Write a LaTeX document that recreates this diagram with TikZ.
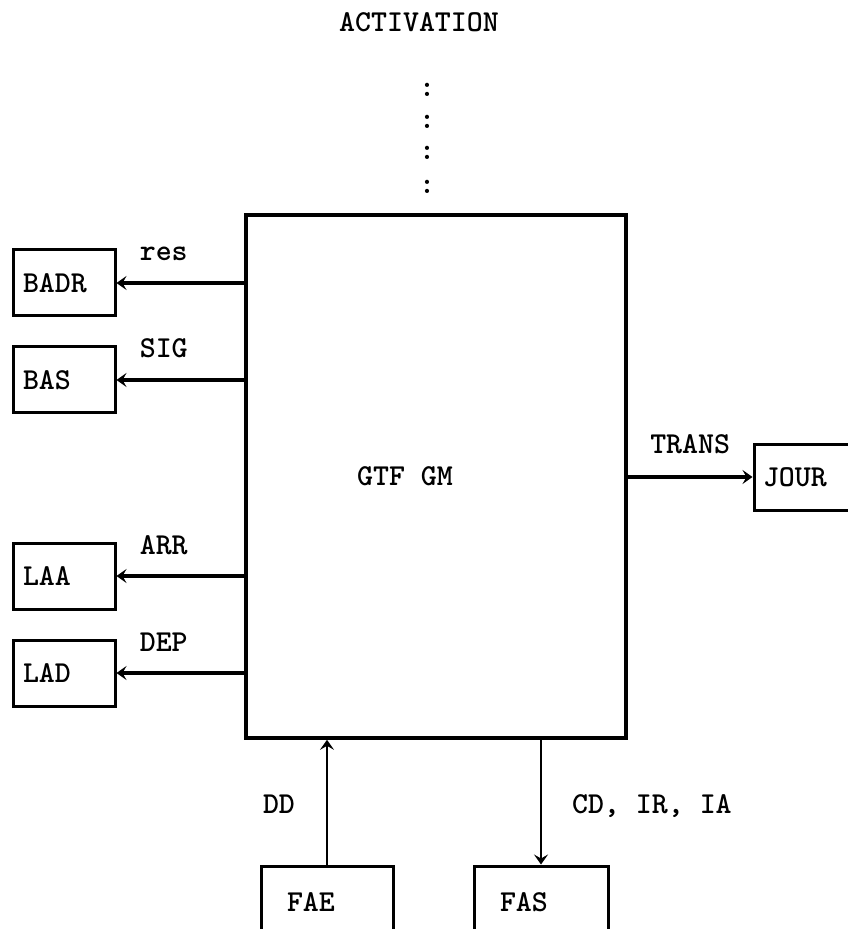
\documentclass[tikz,border=0pt]{standalone}
\usepackage{fontspec}
\usepackage{tikz}
\usetikzlibrary{arrows.meta, positioning, calc}

\tikzset{
    boite/.style={draw, line width=1.5pt, minimum height=33pt, inner xsep=5pt, text width=41pt, align=left},
    fleche/.style={-{Stealth[length=5pt, width=7pt, inset=2pt]}, line width=1.8pt},
    etiq/.style={anchor=base, yshift=11pt}
}

\begin{document}
\begin{tikzpicture}[x=0.5pt, y=-0.5pt, font=\fontsize{15.2pt}{18pt}\selectfont\ttfamily\bfseries]
    \useasboundingbox (0,0) rectangle (847,929);

    % Le module central
    \node[draw, line width=1.8pt, minimum width=190pt, minimum height=261.5pt] (gtf) at (436,476.5) {};
    \node (gtftxt) at (405,476) {GTF GM};

    % Activation (en haut)
    \node (activ) at (419,22) {ACTIVATION};
    \foreach \y in {90,122,153,187}
        \node[inner sep=0pt] at (427,\y) {:};

    % Les boites a gauche
    \node[boite] (badr) at (64,283) {BADR};
    \node[boite] (bas) at (64,380) {BAS};
    \node[boite] (laa) at (64,576) {LAA};
    \node[boite] (lad) at (64,673) {LAD};

    \draw[fleche] (badr.east -| gtf.west) -- (badr.east) node[etiq, pos=.63] {res};
    \draw[fleche] (bas.east -| gtf.west) -- (bas.east) node[etiq, pos=.63] {SIG};
    \draw[fleche] (laa.east -| gtf.west) -- (laa.east) node[etiq, pos=.63] {ARR};
    \draw[fleche] (lad.east -| gtf.west) -- (lad.east) node[etiq, pos=.63] {DEP};

    % Journal (a droite)
    \node[boite, inner xsep=4.5pt, text width=46pt] (jour) at (809,477) {JOUR};
    \draw[fleche] (jour.west -| gtf.east) -- (jour.west) node[etiq, pos=.5, yshift=1pt] {TRANS};

    % Files d'entree et de sortie (en bas)
    \node[boite, minimum height=36pt, inner xsep=13pt, text width=40pt] (fae) at (327,902) {FAE};
    \node[boite, minimum height=36pt, inner xsep=13pt, text width=41pt] (fas) at (541,902) {FAS};

    \draw[fleche, line width=1.4pt] (fae.north) -- (fae.north |- gtf.south)
        node[pos=.41, anchor=base east, xshift=-12pt] {DD};
    \draw[fleche, line width=1.4pt] (fas.north |- gtf.south) -- (fas.north)
        node[pos=.59, anchor=base west, xshift=11.5pt] {CD, IR, IA};

\end{tikzpicture}
\end{document}
